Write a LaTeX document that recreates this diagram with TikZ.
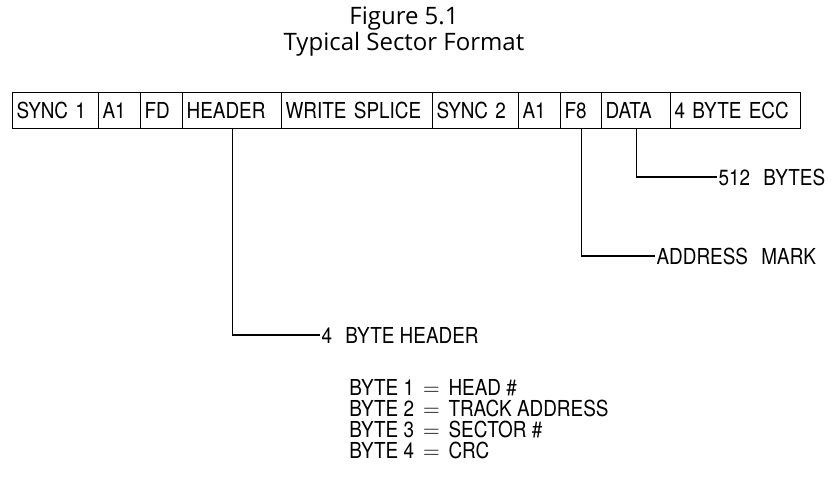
\documentclass[tikz,border=0pt]{standalone}
\usepackage{fontspec}
\setmainfont[FakeStretch=0.86]{TeX Gyre Heros}
\newfontfamily\titlefont{Open Sans}
\tikzset{
  cell/.style={draw, line width=0.9pt, anchor=north west, minimum height=27pt,
    inner xsep=3pt, inner ysep=0pt, align=left, font=\fontsize{16.5}{18}\selectfont},
  leader/.style={line width=0.9pt},
  lbl/.style={anchor=west, inner sep=1pt, font=\fontsize{16.5}{18}\selectfont}
}
\begin{document}
\begin{tikzpicture}[x=0.75pt, y=-0.75pt]
  \useasboundingbox (0,0) rectangle (840,477);

  % title
  \node (title) at (404,19) {\titlefont\fontsize{18}{20}\selectfont Figure 5.1};
  \node (subtitle) at (404,44) {\titlefont\fontsize{18}{20}\selectfont Typical Sector Format};

  % sector fields
  \foreach \nm/\xa/\xb/\txt in {sync1/12/98/SYNC 1, aone/98/140/A1, fd/140/182/FD,
      header/182/281/HEADER, splice/281/432/WRITE SPLICE, sync2/432/518/SYNC 2,
      atwo/518/560/A1, f8/560/601/F8, data/601/670/DATA, ecc/670/800/4 BYTE ECC}{
    \pgfmathsetmacro\w{(\xb-\xa)*0.75-6}
    \node[cell, text width=\w pt] (\nm) at (\xa,92) {\txt};
  }

  % callouts
  \node[lbl] (bytes) at (717,177) {512\hspace{10pt}BYTES};
  \draw[leader] (data.south) |- (bytes.west);

  \node[lbl] (mark) at (655,256) {ADDRESS\hspace{10pt}MARK};
  \draw[leader] (f8.south) |- (mark.west);

  \node[lbl] (hdr) at (320,335) {4\hspace{10pt}BYTE HEADER};
  \draw[leader] (header.south) |- (hdr.west);

  % header bytes
  \foreach \i/\val [count=\k from 0] in {1/HEAD \#, 2/TRACK ADDRESS, 3/SECTOR \#, 4/CRC}
    \node[lbl, anchor=base west, inner sep=0pt] (byte\i) at (349,{396+21*\k})
      {BYTE \i{} \,$=$\, \val};
\end{tikzpicture}
\end{document}
